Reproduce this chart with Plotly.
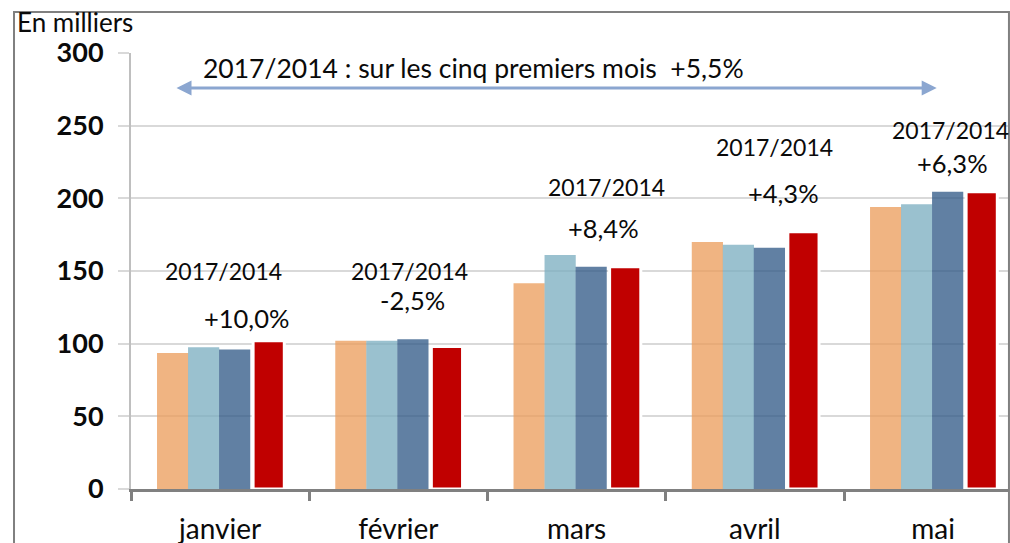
import plotly.graph_objects as go

months = ["janvier", "février", "mars", "avril", "mai"]
s2014 = [93.5, 102, 141.5, 170, 194]
s2015 = [97.5, 102, 161, 168, 196]
s2016 = [96, 103, 153, 166, 204.5]
s2017 = [102, 98, 153, 177, 204.5]

ratio_label = "2017/2014"
month_changes = ["+10,0%", "-2,5%", "+8,4%", "+4,3%", "+6,3%"]
summary_text = "2017/2014 : sur les cinq premiers mois  +5,5%"
unit_text = "En milliers"

# layout positions for the per-month labels (category index, y value)
ratio_pos = [(0.02, 150), (1.06, 150), (2.17, 208), (3.11, 235.5), (4.10, 247)]
change_pos = [(0.15, 117.5), (1.08, 130), (2.15, 179.5), (3.16, 203.5), (4.11, 224.5)]

FONT = "Lato, 'Liberation Sans', sans-serif"
TXT = "#0a0a0a"

series = [
    (s2014, "rgba(235,155,88,0.75)", -0.354, None),
    (s2015, "rgba(120,172,191,0.75)", -0.180, None),
    (s2016, "rgba(44,86,132,0.75)", -0.006, None),
    (s2017, "rgb(192,0,0)", 0.185, "white"),
]

fig = go.Figure()
for vals, col, off, lc in series:
    fig.add_trace(go.Bar(
        x=months, y=vals, width=0.175, offset=off,
        marker=dict(color=col, line=dict(color=lc or "rgba(0,0,0,0)", width=3 if lc else 0)),
        showlegend=False, hoverinfo="skip",
    ))

ann = []
for (x, y) in ratio_pos:
    ann.append(dict(x=x, y=y, xref="x", yref="y", text=ratio_label, showarrow=False,
                    font=dict(family=FONT, size=23, color=TXT)))
for (x, y), t in zip(change_pos, month_changes):
    ann.append(dict(x=x, y=y, xref="x", yref="y", text=t, showarrow=False,
                    font=dict(family=FONT, size=25.5, color=TXT)))
ann.append(dict(x=-0.107, y=289.5, xref="x", yref="y", text=summary_text, showarrow=False,
                xanchor="left", font=dict(family=FONT, size=26.5, color=TXT)))
# double-headed arrow
ann.append(dict(x=4.02, y=276, ax=-0.253, ay=276, xref="x", yref="y", axref="x", ayref="y",
                text="", showarrow=True, arrowhead=2, arrowside="end+start", arrowsize=1,
                arrowwidth=3, arrowcolor="#8ba6d0"))
ann.append(dict(x=-0.1323, y=1.07, xref="paper", yref="paper", text=unit_text, showarrow=False,
                xanchor="left", yanchor="middle", font=dict(family=FONT, size=26, color=TXT)))

fig.update_layout(
    width=1010, height=543,
    margin=dict(l=131, r=2, t=53, b=54, autoexpand=False),
    paper_bgcolor="white", plot_bgcolor="white",
    barmode="overlay",
    annotations=ann,
    shapes=[dict(type="rect", xref="paper", yref="paper", x0=-0.1334, x1=1.0011, y0=-0.3, y1=1.094,
                 line=dict(color="#808080", width=2), layer="above")],
    xaxis=dict(type="category", range=[-0.5, 4.42], showline=True, linecolor="#808080", linewidth=3,
               ticks="outside", tickson="boundaries", ticklen=9, tickwidth=3, tickcolor="#808080",
               showgrid=False, ticklabelstandoff=13,
               tickfont=dict(family=FONT, size=28, color=TXT)),
    yaxis=dict(range=[0, 300], dtick=50, showline=True, linecolor="#bfbfbf", linewidth=2,
               gridcolor="#d9d9d9", gridwidth=2, zeroline=False, ticks="outside", ticklen=11,
               tickwidth=2, tickcolor="#d9d9d9", ticklabelstandoff=9,
               tickfont=dict(family=FONT, size=27, color=TXT, weight="bold")),
)

fig.write_html(
    "out.html",
    config={"displayModeBar": False},
    post_script="document.body.style.margin='0';document.body.style.overflow='hidden';",
)
